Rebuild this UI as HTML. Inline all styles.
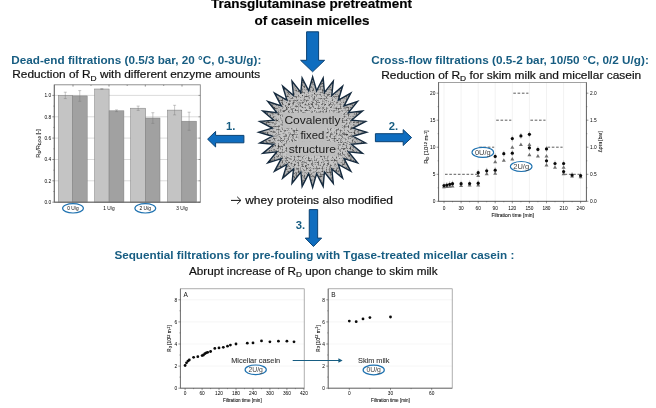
<!DOCTYPE html>
<html><head><meta charset="utf-8"><title>Transglutaminase pretreatment of casein micelles</title>
<style>
html,body{margin:0;padding:0;background:#fff;}
body{width:656px;height:408px;overflow:hidden;font-family:"Liberation Sans",sans-serif;}
svg{display:block;font-family:"Liberation Sans",sans-serif;}
.h{font-weight:bold;fill:#175d82;font-size:10.7px;}
.t{fill:#111;font-size:10.2px;stroke:#111;stroke-width:0.18px;}
.ax{fill:#000;font-size:4.8px;}
.axl{fill:#1a1a1a;font-size:5.7px;stroke:#1a1a1a;stroke-width:0.1px;}
</style></head><body>
<svg width="656" height="408" viewBox="0 0 656 408">
<defs>
<radialGradient id="sg" cx="50%" cy="50%" r="50%">
<stop offset="0" stop-color="#c9c9c9"/><stop offset="0.7" stop-color="#c4c4c4"/><stop offset="0.85" stop-color="#b4b4b4"/><stop offset="1" stop-color="#a6a6a6"/>
</radialGradient>
<filter id="noise" x="0" y="0" width="100%" height="100%">
<feTurbulence type="fractalNoise" baseFrequency="0.5" numOctaves="2" seed="3" result="n"/>
<feColorMatrix in="n" type="matrix" values="0 0 0 0 0  0 0 0 0 0  0 0 0 0 0  3.4 0 0 0 -1.7" result="a"/>
<feGaussianBlur in="a" stdDeviation="0.5" result="b"/><feComposite in="b" in2="SourceGraphic" operator="in"/>
</filter>
<filter id="noise2" x="0" y="0" width="100%" height="100%">
<feTurbulence type="fractalNoise" baseFrequency="0.55" numOctaves="2" seed="11" result="n"/>
<feColorMatrix in="n" type="matrix" values="0 0 0 0 0  0 0 0 0 0  0 0 0 0 0  0 3.4 0 0 -1.85" result="a"/>
<feGaussianBlur in="a" stdDeviation="0.5" result="b"/><feComposite in="b" in2="SourceGraphic" operator="in"/>
</filter>
</defs>
<rect width="656" height="408" fill="#fff"/>
<g opacity="0.999">

<text x="211" y="8.4" class="t" textLength="201" lengthAdjust="spacingAndGlyphs" style="font-weight:bold;font-size:12.2px;fill:#000">Transglutaminase pretreatment</text>
<text x="254.5" y="25.3" class="t" textLength="115" lengthAdjust="spacingAndGlyphs" style="font-weight:bold;font-size:12.2px;fill:#000">of casein micelles</text>
<text x="11.3" y="63.8" class="h" textLength="250" lengthAdjust="spacingAndGlyphs">Dead-end filtrations (0.5/3 bar, 20 °C, 0-3U/g):</text>
<text x="12.3" y="78.3" class="t" textLength="248" lengthAdjust="spacingAndGlyphs">Reduction of R<tspan font-size="7.2" dy="2.3">D</tspan><tspan dy="-2.3"> with different enzyme amounts</tspan></text>
<text x="371.3" y="64" class="h" textLength="277.5" lengthAdjust="spacingAndGlyphs">Cross-flow filtrations (0.5-2 bar, 10/50 °C, 0/2 U/g):</text>
<text x="381.2" y="78.6" class="t" textLength="260" lengthAdjust="spacingAndGlyphs">Reduction of R<tspan font-size="7.2" dy="2.3">D</tspan><tspan dy="-2.3"> for skim milk and micellar casein</tspan></text>
<text x="114.4" y="258.6" class="h" textLength="400" lengthAdjust="spacingAndGlyphs">Sequential filtrations for pre-fouling with Tgase-treated micellar casein :</text>
<text x="189" y="275" class="t" textLength="248.6" lengthAdjust="spacingAndGlyphs">Abrupt increase of R<tspan font-size="7.2" dy="2.3">D</tspan><tspan dy="-2.3"> upon change to skim milk</tspan></text>
<path d="M231 200.4H240.6M237.2 196.8L240.9 200.4L237.2 204" stroke="#111" stroke-width="1" fill="none"/>
<text x="245.2" y="204.1" class="t" textLength="147.8" lengthAdjust="spacingAndGlyphs">whey proteins also modified</text>
<path d="M306.6 31.8H318.6V60.3H324.6L312.6 71.8L300.6 60.3H306.6Z" fill="#0f6dbf" stroke="#0b4273" stroke-width="1" stroke-linejoin="miter"/>
<path d="M309.25 209.6H317.65V238.1H321.65L313.45 246.5L305.25 238.1H309.25Z" fill="#0f6dbf" stroke="#0b4273" stroke-width="1" stroke-linejoin="miter"/>
<path d="M243.9 135.4V142.8H215.6V147L207.6 139.15L215.6 131.4V135.4Z" fill="#0f6dbf" stroke="#0b4273" stroke-width="1"/>
<path d="M375.4 133.7V141.7H403.2V145.5L411.6 137.6L403.2 129.6V133.7Z" fill="#0f6dbf" stroke="#0b4273" stroke-width="1"/>
<text x="226.1" y="130.4" class="h" textLength="9.4" lengthAdjust="spacingAndGlyphs" style="font-size:10.6px">1.</text>
<text x="388.7" y="130.1" class="h" textLength="9.4" lengthAdjust="spacingAndGlyphs" style="font-size:10.6px">2.</text>
<text x="295.8" y="228.5" class="h" textLength="9.4" lengthAdjust="spacingAndGlyphs" style="font-size:10.6px">3.</text>
<polygon points="312.65,76.90 316.63,90.81 323.18,77.96 324.44,92.41 333.31,81.11 331.79,95.52 342.65,86.22 338.41,100.05 350.83,93.10 344.04,105.82 357.55,101.48 348.46,112.60 362.54,111.04 351.51,120.13 365.61,121.41 353.06,128.12 366.65,132.20 353.06,136.28 365.61,142.99 351.51,144.27 362.54,153.36 348.46,151.80 357.55,162.92 344.04,158.58 350.83,171.30 338.41,164.35 342.65,178.18 331.79,168.88 333.31,183.29 324.44,171.99 323.18,186.44 316.63,173.59 312.65,187.50 308.67,173.59 302.12,186.44 300.86,171.99 291.99,183.29 293.51,168.88 282.65,178.18 286.89,164.35 274.47,171.30 281.26,158.58 267.75,162.92 276.84,151.80 262.76,153.36 273.79,144.27 259.69,142.99 272.24,136.28 258.65,132.20 272.24,128.12 259.69,121.41 273.79,120.13 262.76,111.04 276.84,112.60 267.75,101.48 281.26,105.82 274.47,93.10 286.89,100.05 282.65,86.22 293.51,95.52 291.99,81.11 300.86,92.41 302.12,77.96 308.67,90.81" fill="url(#sg)"/>
<polygon points="312.65,76.90 316.63,90.81 323.18,77.96 324.44,92.41 333.31,81.11 331.79,95.52 342.65,86.22 338.41,100.05 350.83,93.10 344.04,105.82 357.55,101.48 348.46,112.60 362.54,111.04 351.51,120.13 365.61,121.41 353.06,128.12 366.65,132.20 353.06,136.28 365.61,142.99 351.51,144.27 362.54,153.36 348.46,151.80 357.55,162.92 344.04,158.58 350.83,171.30 338.41,164.35 342.65,178.18 331.79,168.88 333.31,183.29 324.44,171.99 323.18,186.44 316.63,173.59 312.65,187.50 308.67,173.59 302.12,186.44 300.86,171.99 291.99,183.29 293.51,168.88 282.65,178.18 286.89,164.35 274.47,171.30 281.26,158.58 267.75,162.92 276.84,151.80 262.76,153.36 273.79,144.27 259.69,142.99 272.24,136.28 258.65,132.20 272.24,128.12 259.69,121.41 273.79,120.13 262.76,111.04 276.84,112.60 267.75,101.48 281.26,105.82 274.47,93.10 286.89,100.05 282.65,86.22 293.51,95.52 291.99,81.11 300.86,92.41 302.12,77.96 308.67,90.81" fill="#707070" filter="url(#noise)" opacity="0.6"/>
<polygon points="312.65,76.90 316.63,90.81 323.18,77.96 324.44,92.41 333.31,81.11 331.79,95.52 342.65,86.22 338.41,100.05 350.83,93.10 344.04,105.82 357.55,101.48 348.46,112.60 362.54,111.04 351.51,120.13 365.61,121.41 353.06,128.12 366.65,132.20 353.06,136.28 365.61,142.99 351.51,144.27 362.54,153.36 348.46,151.80 357.55,162.92 344.04,158.58 350.83,171.30 338.41,164.35 342.65,178.18 331.79,168.88 333.31,183.29 324.44,171.99 323.18,186.44 316.63,173.59 312.65,187.50 308.67,173.59 302.12,186.44 300.86,171.99 291.99,183.29 293.51,168.88 282.65,178.18 286.89,164.35 274.47,171.30 281.26,158.58 267.75,162.92 276.84,151.80 262.76,153.36 273.79,144.27 259.69,142.99 272.24,136.28 258.65,132.20 272.24,128.12 259.69,121.41 273.79,120.13 262.76,111.04 276.84,112.60 267.75,101.48 281.26,105.82 274.47,93.10 286.89,100.05 282.65,86.22 293.51,95.52 291.99,81.11 300.86,92.41 302.12,77.96 308.67,90.81" fill="#fff" filter="url(#noise2)" opacity="0.6"/>
<polygon points="312.65,76.90 316.63,90.81 323.18,77.96 324.44,92.41 333.31,81.11 331.79,95.52 342.65,86.22 338.41,100.05 350.83,93.10 344.04,105.82 357.55,101.48 348.46,112.60 362.54,111.04 351.51,120.13 365.61,121.41 353.06,128.12 366.65,132.20 353.06,136.28 365.61,142.99 351.51,144.27 362.54,153.36 348.46,151.80 357.55,162.92 344.04,158.58 350.83,171.30 338.41,164.35 342.65,178.18 331.79,168.88 333.31,183.29 324.44,171.99 323.18,186.44 316.63,173.59 312.65,187.50 308.67,173.59 302.12,186.44 300.86,171.99 291.99,183.29 293.51,168.88 282.65,178.18 286.89,164.35 274.47,171.30 281.26,158.58 267.75,162.92 276.84,151.80 262.76,153.36 273.79,144.27 259.69,142.99 272.24,136.28 258.65,132.20 272.24,128.12 259.69,121.41 273.79,120.13 262.76,111.04 276.84,112.60 267.75,101.48 281.26,105.82 274.47,93.10 286.89,100.05 282.65,86.22 293.51,95.52 291.99,81.11 300.86,92.41 302.12,77.96 308.67,90.81" fill="none" stroke="#162b3f" stroke-width="1.4" stroke-linejoin="miter" stroke-miterlimit="6"/>
<rect x="282.8" y="112.7" width="59" height="15.3" fill="#bebebe"/>
<rect x="298.3" y="127.9" width="27.9" height="14" fill="#bebebe"/>
<rect x="287.1" y="141.8" width="50.6" height="14" fill="#bebebe"/>
<g style="fill:#1c1c1c;font-size:10.6px" text-anchor="middle">
<text x="312.4" y="123.9" textLength="56" lengthAdjust="spacingAndGlyphs">Covalently</text>
<text x="312.4" y="138.7" textLength="24" lengthAdjust="spacingAndGlyphs">fixed</text>
<text x="312.4" y="153.4" textLength="47.3" lengthAdjust="spacingAndGlyphs">structure</text></g>
<g>
<line x1="54.3" x2="200.3" y1="180.8" y2="180.8" stroke="#cdcdcd" stroke-width="0.7"/>
<line x1="54.3" x2="200.3" y1="159.5" y2="159.5" stroke="#cdcdcd" stroke-width="0.7"/>
<line x1="54.3" x2="200.3" y1="138.1" y2="138.1" stroke="#cdcdcd" stroke-width="0.7"/>
<line x1="54.3" x2="200.3" y1="116.8" y2="116.8" stroke="#cdcdcd" stroke-width="0.7"/>
<line x1="54.3" x2="200.3" y1="95.4" y2="95.4" stroke="#cdcdcd" stroke-width="0.7"/>
<rect x="58.3" y="95.4" width="14.0" height="106.8" fill="#c4c4c4" stroke="#7d7d7d" stroke-width="0.5"/>
<path d="M65.3 92.2V98.6M63.8 92.2h3M63.8 98.6h3" stroke="#777" stroke-width="0.4" fill="none"/>
<rect x="72.3" y="95.9" width="14.9" height="106.3" fill="#a1a1a1" stroke="#7d7d7d" stroke-width="0.5"/>
<path d="M79.75 90.6V101.3M78.25 90.6h3M78.25 101.3h3" stroke="#777" stroke-width="0.4" fill="none"/>
<rect x="94.6" y="89.0" width="14.5" height="113.2" fill="#c4c4c4" stroke="#7d7d7d" stroke-width="0.5"/>
<path d="M101.85 88.6V89.4M100.35 88.6h3M100.35 89.4h3" stroke="#777" stroke-width="0.4" fill="none"/>
<rect x="109.1" y="110.8" width="14.8" height="91.4" fill="#a1a1a1" stroke="#7d7d7d" stroke-width="0.5"/>
<path d="M116.5 109.9V111.6M115.0 109.9h3M115.0 111.6h3" stroke="#777" stroke-width="0.4" fill="none"/>
<rect x="130.6" y="108.2" width="15.1" height="94.0" fill="#c4c4c4" stroke="#7d7d7d" stroke-width="0.5"/>
<path d="M138.14999999999998 106.1V110.4M136.64999999999998 106.1h3M136.64999999999998 110.4h3" stroke="#777" stroke-width="0.4" fill="none"/>
<rect x="145.7" y="118.0" width="14.3" height="84.2" fill="#a1a1a1" stroke="#7d7d7d" stroke-width="0.5"/>
<path d="M152.85 112.7V123.4M151.35 112.7h3M151.35 123.4h3" stroke="#777" stroke-width="0.4" fill="none"/>
<rect x="167.4" y="110.1" width="14.4" height="92.1" fill="#c4c4c4" stroke="#7d7d7d" stroke-width="0.5"/>
<path d="M174.60000000000002 105.3V114.9M173.10000000000002 105.3h3M173.10000000000002 114.9h3" stroke="#777" stroke-width="0.4" fill="none"/>
<rect x="181.8" y="121.2" width="14.6" height="81.0" fill="#a1a1a1" stroke="#7d7d7d" stroke-width="0.5"/>
<path d="M189.10000000000002 112.2V130.3M187.60000000000002 112.2h3M187.60000000000002 130.3h3" stroke="#777" stroke-width="0.4" fill="none"/>
<rect x="54.3" y="84.8" width="146.0" height="117.4" fill="none" stroke="#858585" stroke-width="0.9"/>
<path d="M54.3 84.8V202.2H200.3" fill="none" stroke="#666" stroke-width="0.9"/>
<line x1="198.5" x2="200.3" y1="202.2" y2="202.2" stroke="#555" stroke-width="0.5"/>
<line x1="198.5" x2="200.3" y1="180.8" y2="180.8" stroke="#555" stroke-width="0.5"/>
<line x1="198.5" x2="200.3" y1="159.5" y2="159.5" stroke="#555" stroke-width="0.5"/>
<line x1="198.5" x2="200.3" y1="138.1" y2="138.1" stroke="#555" stroke-width="0.5"/>
<line x1="198.5" x2="200.3" y1="116.8" y2="116.8" stroke="#555" stroke-width="0.5"/>
<line x1="198.5" x2="200.3" y1="95.4" y2="95.4" stroke="#555" stroke-width="0.5"/>
<line x1="91" x2="91" y1="84.8" y2="86.0" stroke="#444" stroke-width="0.5"/>
<line x1="127.2" x2="127.2" y1="84.8" y2="86.0" stroke="#444" stroke-width="0.5"/>
<line x1="163.7" x2="163.7" y1="84.8" y2="86.0" stroke="#444" stroke-width="0.5"/>
<line x1="52.3" x2="54.3" y1="202.2" y2="202.2" stroke="#333" stroke-width="0.5"/>
<text x="51.099999999999994" y="203.9" class="ax" text-anchor="end">0.0</text>
<line x1="52.3" x2="54.3" y1="180.8" y2="180.8" stroke="#333" stroke-width="0.5"/>
<text x="51.099999999999994" y="182.5" class="ax" text-anchor="end">0.2</text>
<line x1="52.3" x2="54.3" y1="159.5" y2="159.5" stroke="#333" stroke-width="0.5"/>
<text x="51.099999999999994" y="161.2" class="ax" text-anchor="end">0.4</text>
<line x1="52.3" x2="54.3" y1="138.1" y2="138.1" stroke="#333" stroke-width="0.5"/>
<text x="51.099999999999994" y="139.8" class="ax" text-anchor="end">0.6</text>
<line x1="52.3" x2="54.3" y1="116.8" y2="116.8" stroke="#333" stroke-width="0.5"/>
<text x="51.099999999999994" y="118.5" class="ax" text-anchor="end">0.8</text>
<line x1="52.3" x2="54.3" y1="95.4" y2="95.4" stroke="#333" stroke-width="0.5"/>
<text x="51.099999999999994" y="97.1" class="ax" text-anchor="end">1.0</text>
<line x1="53.3" x2="54.3" y1="191.5" y2="191.5" stroke="#333" stroke-width="0.4"/>
<line x1="53.3" x2="54.3" y1="170.2" y2="170.2" stroke="#333" stroke-width="0.4"/>
<line x1="53.3" x2="54.3" y1="148.8" y2="148.8" stroke="#333" stroke-width="0.4"/>
<line x1="53.3" x2="54.3" y1="127.4" y2="127.4" stroke="#333" stroke-width="0.4"/>
<line x1="53.3" x2="54.3" y1="106.1" y2="106.1" stroke="#333" stroke-width="0.4"/>
<text x="73" y="210.1" class="ax" text-anchor="middle">0 U/g</text>
<line x1="73" x2="73" y1="84.8" y2="86.6" stroke="#333" stroke-width="0.5"/>
<text x="109" y="210.1" class="ax" text-anchor="middle">1 U/g</text>
<line x1="109" x2="109" y1="84.8" y2="86.6" stroke="#333" stroke-width="0.5"/>
<text x="145.3" y="210.1" class="ax" text-anchor="middle">2 U/g</text>
<line x1="145.3" x2="145.3" y1="84.8" y2="86.6" stroke="#333" stroke-width="0.5"/>
<text x="182" y="210.1" class="ax" text-anchor="middle">3 U/g</text>
<line x1="182" x2="182" y1="84.8" y2="86.6" stroke="#333" stroke-width="0.5"/>
<ellipse cx="73" cy="208.3" rx="10.4" ry="4.7" fill="none" stroke="#1f72b0" stroke-width="1.2"/>
<ellipse cx="145.3" cy="208.3" rx="10.4" ry="4.7" fill="none" stroke="#1f72b0" stroke-width="1.2"/>
<text transform="translate(40 143.6) rotate(-90)" class="axl" text-anchor="middle">R<tspan font-size="3.8" dy="1">D</tspan><tspan dy="-1">/R</tspan><tspan font-size="3.8" dy="1">D,0.0</tspan><tspan dy="-1"> [-]</tspan></text>
</g>
<g>
<line x1="444.0" x2="444.0" y1="82.5" y2="201.3" stroke="#e4e4e4" stroke-width="0.5"/>
<line x1="461.1" x2="461.1" y1="82.5" y2="201.3" stroke="#e4e4e4" stroke-width="0.5"/>
<line x1="478.2" x2="478.2" y1="82.5" y2="201.3" stroke="#e4e4e4" stroke-width="0.5"/>
<line x1="495.2" x2="495.2" y1="82.5" y2="201.3" stroke="#e4e4e4" stroke-width="0.5"/>
<line x1="512.3" x2="512.3" y1="82.5" y2="201.3" stroke="#e4e4e4" stroke-width="0.5"/>
<line x1="529.4" x2="529.4" y1="82.5" y2="201.3" stroke="#e4e4e4" stroke-width="0.5"/>
<line x1="546.5" x2="546.5" y1="82.5" y2="201.3" stroke="#e4e4e4" stroke-width="0.5"/>
<line x1="563.6" x2="563.6" y1="82.5" y2="201.3" stroke="#e4e4e4" stroke-width="0.5"/>
<line x1="580.6" x2="580.6" y1="82.5" y2="201.3" stroke="#e4e4e4" stroke-width="0.5"/>
<line x1="445.0" x2="477.2" y1="174.3" y2="174.3" stroke="#333" stroke-width="0.8" stroke-dasharray="2.6 1.7"/>
<line x1="479.2" x2="494.2" y1="147.2" y2="147.2" stroke="#333" stroke-width="0.8" stroke-dasharray="2.6 1.7"/>
<line x1="496.2" x2="511.3" y1="120.2" y2="120.2" stroke="#333" stroke-width="0.8" stroke-dasharray="2.6 1.7"/>
<line x1="513.3" x2="528.4" y1="93.2" y2="93.2" stroke="#333" stroke-width="0.8" stroke-dasharray="2.6 1.7"/>
<line x1="530.4" x2="545.5" y1="120.2" y2="120.2" stroke="#333" stroke-width="0.8" stroke-dasharray="2.6 1.7"/>
<line x1="547.5" x2="562.6" y1="147.2" y2="147.2" stroke="#333" stroke-width="0.8" stroke-dasharray="2.6 1.7"/>
<line x1="564.6" x2="579.6" y1="174.3" y2="174.3" stroke="#333" stroke-width="0.8" stroke-dasharray="2.6 1.7"/>
<path d="M444.0 184.7L446.0 188.2H442.0Z" fill="#707070"/>
<path d="M446.8 184.4L448.8 187.9H444.8Z" fill="#707070"/>
<path d="M449.7 184.2L451.7 187.7H447.7Z" fill="#707070"/>
<path d="M452.5 183.9L454.5 187.4H450.5Z" fill="#707070"/>
<path d="M461.1 183.6L463.1 187.1H459.1Z" fill="#707070"/>
<path d="M469.6 183.1L471.6 186.6H467.6Z" fill="#707070"/>
<path d="M478.2 183.1L480.2 186.6H476.2Z" fill="#707070"/>
<path d="M478.2 173.4L480.2 176.9H476.2Z" fill="#707070"/>
<path d="M486.7 171.7L488.7 175.2H484.7Z" fill="#707070"/>
<path d="M495.2 171.2L497.2 174.7H493.2Z" fill="#707070"/>
<path d="M495.2 159.8L497.2 163.3H493.2Z" fill="#707070"/>
<path d="M503.8 158.2L505.8 161.7H501.8Z" fill="#707070"/>
<path d="M512.3 157.1L514.3 160.6H510.3Z" fill="#707070"/>
<path d="M512.3 145.2L514.3 148.8H510.3Z" fill="#707070"/>
<path d="M520.9 142.5L522.9 146.0H518.9Z" fill="#707070"/>
<path d="M529.4 142.5L531.4 146.0H527.4Z" fill="#707070"/>
<path d="M529.4 152.8L531.4 156.3H527.4Z" fill="#707070"/>
<path d="M537.9 153.9L539.9 157.4H535.9Z" fill="#707070"/>
<path d="M546.5 153.9L548.5 157.4H544.5Z" fill="#707070"/>
<path d="M546.5 163.1L548.5 166.6H544.5Z" fill="#707070"/>
<path d="M555.0 165.2L557.0 168.7H553.0Z" fill="#707070"/>
<path d="M563.6 165.2L565.6 168.7H561.6Z" fill="#707070"/>
<path d="M563.6 171.7L565.6 175.2H561.6Z" fill="#707070"/>
<path d="M572.1 173.9L574.1 177.4H570.1Z" fill="#707070"/>
<path d="M580.6 174.7L582.6 178.2H578.6Z" fill="#707070"/>
<path d="M444.0 182.6V188.6" stroke="#666" stroke-width="0.4"/>
<circle cx="444.0" cy="185.6" r="1.6" fill="#0a0a0a"/>
<path d="M446.8 182.1V188.1" stroke="#666" stroke-width="0.4"/>
<circle cx="446.8" cy="185.1" r="1.6" fill="#0a0a0a"/>
<path d="M449.7 181.3V187.3" stroke="#666" stroke-width="0.4"/>
<circle cx="449.7" cy="184.3" r="1.6" fill="#0a0a0a"/>
<path d="M452.5 180.7V186.7" stroke="#666" stroke-width="0.4"/>
<circle cx="452.5" cy="183.7" r="1.6" fill="#0a0a0a"/>
<path d="M461.1 180.7V186.7" stroke="#666" stroke-width="0.4"/>
<circle cx="461.1" cy="183.7" r="1.6" fill="#0a0a0a"/>
<path d="M469.6 180.5V186.5" stroke="#666" stroke-width="0.4"/>
<circle cx="469.6" cy="183.5" r="1.6" fill="#0a0a0a"/>
<path d="M478.2 180.2V186.2" stroke="#666" stroke-width="0.4"/>
<circle cx="478.2" cy="183.2" r="1.6" fill="#0a0a0a"/>
<path d="M478.2 169.7V175.7" stroke="#666" stroke-width="0.4"/>
<circle cx="478.2" cy="172.7" r="1.6" fill="#0a0a0a"/>
<path d="M486.7 167.8V173.8" stroke="#666" stroke-width="0.4"/>
<circle cx="486.7" cy="170.8" r="1.6" fill="#0a0a0a"/>
<path d="M495.2 167.2V173.2" stroke="#666" stroke-width="0.4"/>
<circle cx="495.2" cy="170.2" r="1.6" fill="#0a0a0a"/>
<path d="M495.2 153.4V159.4" stroke="#666" stroke-width="0.4"/>
<circle cx="495.2" cy="156.4" r="1.6" fill="#0a0a0a"/>
<path d="M503.8 150.7V156.7" stroke="#666" stroke-width="0.4"/>
<circle cx="503.8" cy="153.7" r="1.6" fill="#0a0a0a"/>
<path d="M512.3 150.2V156.2" stroke="#666" stroke-width="0.4"/>
<circle cx="512.3" cy="153.2" r="1.6" fill="#0a0a0a"/>
<path d="M512.3 135.6V141.6" stroke="#666" stroke-width="0.4"/>
<circle cx="512.3" cy="138.6" r="1.6" fill="#0a0a0a"/>
<path d="M520.9 132.9V138.9" stroke="#666" stroke-width="0.4"/>
<circle cx="520.9" cy="135.9" r="1.6" fill="#0a0a0a"/>
<path d="M529.4 131.3V137.3" stroke="#666" stroke-width="0.4"/>
<circle cx="529.4" cy="134.3" r="1.6" fill="#0a0a0a"/>
<path d="M529.4 144.8V150.8" stroke="#666" stroke-width="0.4"/>
<circle cx="529.4" cy="147.8" r="1.6" fill="#0a0a0a"/>
<path d="M537.9 146.4V152.4" stroke="#666" stroke-width="0.4"/>
<circle cx="537.9" cy="149.4" r="1.6" fill="#0a0a0a"/>
<path d="M546.5 145.9V151.9" stroke="#666" stroke-width="0.4"/>
<circle cx="546.5" cy="148.9" r="1.6" fill="#0a0a0a"/>
<path d="M546.5 157.8V163.8" stroke="#666" stroke-width="0.4"/>
<circle cx="546.5" cy="160.8" r="1.6" fill="#0a0a0a"/>
<path d="M555.0 160.5V166.5" stroke="#666" stroke-width="0.4"/>
<circle cx="555.0" cy="163.5" r="1.6" fill="#0a0a0a"/>
<path d="M563.6 160.5V166.5" stroke="#666" stroke-width="0.4"/>
<circle cx="563.6" cy="163.5" r="1.6" fill="#0a0a0a"/>
<path d="M563.6 168.6V174.6" stroke="#666" stroke-width="0.4"/>
<circle cx="563.6" cy="171.6" r="1.6" fill="#0a0a0a"/>
<path d="M572.1 172.1V178.1" stroke="#666" stroke-width="0.4"/>
<circle cx="572.1" cy="175.1" r="1.6" fill="#0a0a0a"/>
<path d="M580.6 172.6V178.6" stroke="#666" stroke-width="0.4"/>
<circle cx="580.6" cy="175.6" r="1.6" fill="#0a0a0a"/>
<rect x="438.6" y="82.5" width="147.8" height="118.8" fill="none" stroke="#7a7a7a" stroke-width="0.7"/>
<path d="M438.6 82.5V201.3H586.4V82.5" fill="none" stroke="#5a5a5a" stroke-width="0.8"/>
<line x1="436.6" x2="438.6" y1="201.3" y2="201.3" stroke="#333" stroke-width="0.5"/>
<line x1="586.4" x2="588.4" y1="201.3" y2="201.3" stroke="#333" stroke-width="0.5"/>
<text x="435.4" y="203.0" class="ax" text-anchor="end">0</text>
<text x="590.0" y="203.0" class="ax">0.0</text>
<line x1="436.6" x2="438.6" y1="174.3" y2="174.3" stroke="#333" stroke-width="0.5"/>
<line x1="586.4" x2="588.4" y1="174.3" y2="174.3" stroke="#333" stroke-width="0.5"/>
<text x="435.4" y="176.0" class="ax" text-anchor="end">5</text>
<text x="590.0" y="176.0" class="ax">0.5</text>
<line x1="436.6" x2="438.6" y1="147.2" y2="147.2" stroke="#333" stroke-width="0.5"/>
<line x1="586.4" x2="588.4" y1="147.2" y2="147.2" stroke="#333" stroke-width="0.5"/>
<text x="435.4" y="148.9" class="ax" text-anchor="end">10</text>
<text x="590.0" y="148.9" class="ax">1.0</text>
<line x1="436.6" x2="438.6" y1="120.2" y2="120.2" stroke="#333" stroke-width="0.5"/>
<line x1="586.4" x2="588.4" y1="120.2" y2="120.2" stroke="#333" stroke-width="0.5"/>
<text x="435.4" y="121.9" class="ax" text-anchor="end">15</text>
<text x="590.0" y="121.9" class="ax">1.5</text>
<line x1="436.6" x2="438.6" y1="93.2" y2="93.2" stroke="#333" stroke-width="0.5"/>
<line x1="586.4" x2="588.4" y1="93.2" y2="93.2" stroke="#333" stroke-width="0.5"/>
<text x="435.4" y="94.9" class="ax" text-anchor="end">20</text>
<text x="590.0" y="94.9" class="ax">2.0</text>
<line x1="437.6" x2="438.6" y1="187.8" y2="187.8" stroke="#333" stroke-width="0.4"/>
<line x1="586.4" x2="587.4" y1="187.8" y2="187.8" stroke="#333" stroke-width="0.4"/>
<line x1="437.6" x2="438.6" y1="160.8" y2="160.8" stroke="#333" stroke-width="0.4"/>
<line x1="586.4" x2="587.4" y1="160.8" y2="160.8" stroke="#333" stroke-width="0.4"/>
<line x1="437.6" x2="438.6" y1="133.7" y2="133.7" stroke="#333" stroke-width="0.4"/>
<line x1="586.4" x2="587.4" y1="133.7" y2="133.7" stroke="#333" stroke-width="0.4"/>
<line x1="437.6" x2="438.6" y1="106.7" y2="106.7" stroke="#333" stroke-width="0.4"/>
<line x1="586.4" x2="587.4" y1="106.7" y2="106.7" stroke="#333" stroke-width="0.4"/>
<line x1="444.0" x2="444.0" y1="201.3" y2="203.3" stroke="#333" stroke-width="0.5"/>
<text x="444.0" y="209.8" class="ax" text-anchor="middle">0</text>
<line x1="461.1" x2="461.1" y1="201.3" y2="203.3" stroke="#333" stroke-width="0.5"/>
<text x="461.1" y="209.8" class="ax" text-anchor="middle">30</text>
<line x1="478.2" x2="478.2" y1="201.3" y2="203.3" stroke="#333" stroke-width="0.5"/>
<text x="478.2" y="209.8" class="ax" text-anchor="middle">60</text>
<line x1="495.2" x2="495.2" y1="201.3" y2="203.3" stroke="#333" stroke-width="0.5"/>
<text x="495.2" y="209.8" class="ax" text-anchor="middle">90</text>
<line x1="512.3" x2="512.3" y1="201.3" y2="203.3" stroke="#333" stroke-width="0.5"/>
<text x="512.3" y="209.8" class="ax" text-anchor="middle">120</text>
<line x1="529.4" x2="529.4" y1="201.3" y2="203.3" stroke="#333" stroke-width="0.5"/>
<text x="529.4" y="209.8" class="ax" text-anchor="middle">150</text>
<line x1="546.5" x2="546.5" y1="201.3" y2="203.3" stroke="#333" stroke-width="0.5"/>
<text x="546.5" y="209.8" class="ax" text-anchor="middle">180</text>
<line x1="563.6" x2="563.6" y1="201.3" y2="203.3" stroke="#333" stroke-width="0.5"/>
<text x="563.6" y="209.8" class="ax" text-anchor="middle">210</text>
<line x1="580.6" x2="580.6" y1="201.3" y2="203.3" stroke="#333" stroke-width="0.5"/>
<text x="580.6" y="209.8" class="ax" text-anchor="middle">240</text>
<line x1="452.5" x2="452.5" y1="201.3" y2="202.3" stroke="#333" stroke-width="0.4"/>
<line x1="469.6" x2="469.6" y1="201.3" y2="202.3" stroke="#333" stroke-width="0.4"/>
<line x1="486.7" x2="486.7" y1="201.3" y2="202.3" stroke="#333" stroke-width="0.4"/>
<line x1="503.8" x2="503.8" y1="201.3" y2="202.3" stroke="#333" stroke-width="0.4"/>
<line x1="520.9" x2="520.9" y1="201.3" y2="202.3" stroke="#333" stroke-width="0.4"/>
<line x1="537.9" x2="537.9" y1="201.3" y2="202.3" stroke="#333" stroke-width="0.4"/>
<line x1="555.0" x2="555.0" y1="201.3" y2="202.3" stroke="#333" stroke-width="0.4"/>
<line x1="572.1" x2="572.1" y1="201.3" y2="202.3" stroke="#333" stroke-width="0.4"/>
<text x="512.7" y="217.2" class="axl" text-anchor="middle" style="font-size:5.05px">Filtration time [min]</text>
<text transform="translate(428.2 147) rotate(-90)" class="axl" style="font-size:6.0px" text-anchor="middle">R<tspan font-size="4.0" dy="0.9">D</tspan><tspan dy="-0.9"> [10</tspan><tspan font-size="4.0" dy="-1.5">12</tspan><tspan dy="1.5"> m</tspan><tspan font-size="4.0" dy="-1.5">-1</tspan><tspan dy="1.5">]</tspan></text>
<text transform="translate(601.5 141.8) rotate(-90)" class="axl" style="font-size:4.7px;fill:#444" text-anchor="middle">Δp<tspan font-size="3.2" dy="0.9">TM</tspan><tspan dy="-0.9"> [bar]</tspan></text>
<ellipse cx="482.8" cy="152.4" rx="10.8" ry="5" fill="#fff" stroke="#1f72b0" stroke-width="1.1"/>
<text x="482.8" y="155.0" class="t" text-anchor="middle" style="font-size:7.5px;fill:#444;stroke:none">0U/g</text>
<ellipse cx="521.2" cy="166.5" rx="10.8" ry="5" fill="#fff" stroke="#1f72b0" stroke-width="1.1"/>
<text x="521.2" y="169.1" class="t" text-anchor="middle" style="font-size:7.5px;fill:#444;stroke:none">2U/g</text>
</g>
<g>
<line x1="180.4" x2="304.2" y1="366.1" y2="366.1" stroke="#ececec" stroke-width="0.5"/>
<line x1="180.4" x2="304.2" y1="344.0" y2="344.0" stroke="#ececec" stroke-width="0.5"/>
<line x1="180.4" x2="304.2" y1="321.9" y2="321.9" stroke="#ececec" stroke-width="0.5"/>
<line x1="180.4" x2="304.2" y1="299.8" y2="299.8" stroke="#ececec" stroke-width="0.5"/>
<rect x="180.4" y="288.8" width="123.8" height="99.4" fill="none" stroke="#8a8a8a" stroke-width="0.7"/>
<path d="M180.4 288.8V388.2H304.2" fill="none" stroke="#666" stroke-width="0.8"/>
<line x1="178.4" x2="180.4" y1="388.2" y2="388.2" stroke="#333" stroke-width="0.5"/>
<text x="177.2" y="389.9" class="ax" text-anchor="end">0</text>
<line x1="178.4" x2="180.4" y1="366.1" y2="366.1" stroke="#333" stroke-width="0.5"/>
<text x="177.2" y="367.8" class="ax" text-anchor="end">2</text>
<line x1="178.4" x2="180.4" y1="344.0" y2="344.0" stroke="#333" stroke-width="0.5"/>
<text x="177.2" y="345.7" class="ax" text-anchor="end">4</text>
<line x1="178.4" x2="180.4" y1="321.9" y2="321.9" stroke="#333" stroke-width="0.5"/>
<text x="177.2" y="323.6" class="ax" text-anchor="end">6</text>
<line x1="178.4" x2="180.4" y1="299.8" y2="299.8" stroke="#333" stroke-width="0.5"/>
<text x="177.2" y="301.5" class="ax" text-anchor="end">8</text>
<line x1="179.4" x2="180.4" y1="377.1" y2="377.1" stroke="#333" stroke-width="0.4"/>
<line x1="179.4" x2="180.4" y1="355.0" y2="355.0" stroke="#333" stroke-width="0.4"/>
<line x1="179.4" x2="180.4" y1="332.9" y2="332.9" stroke="#333" stroke-width="0.4"/>
<line x1="179.4" x2="180.4" y1="310.8" y2="310.8" stroke="#333" stroke-width="0.4"/>
<line x1="185.1" x2="185.1" y1="388.2" y2="390.2" stroke="#333" stroke-width="0.5"/>
<text x="185.1" y="394.8" class="ax" text-anchor="middle">0</text>
<line x1="202.1" x2="202.1" y1="388.2" y2="390.2" stroke="#333" stroke-width="0.5"/>
<text x="202.1" y="394.8" class="ax" text-anchor="middle">60</text>
<line x1="219.0" x2="219.0" y1="388.2" y2="390.2" stroke="#333" stroke-width="0.5"/>
<text x="219.0" y="394.8" class="ax" text-anchor="middle">120</text>
<line x1="236.0" x2="236.0" y1="388.2" y2="390.2" stroke="#333" stroke-width="0.5"/>
<text x="236.0" y="394.8" class="ax" text-anchor="middle">180</text>
<line x1="253.0" x2="253.0" y1="388.2" y2="390.2" stroke="#333" stroke-width="0.5"/>
<text x="253.0" y="394.8" class="ax" text-anchor="middle">240</text>
<line x1="269.9" x2="269.9" y1="388.2" y2="390.2" stroke="#333" stroke-width="0.5"/>
<text x="269.9" y="394.8" class="ax" text-anchor="middle">300</text>
<line x1="286.9" x2="286.9" y1="388.2" y2="390.2" stroke="#333" stroke-width="0.5"/>
<text x="286.9" y="394.8" class="ax" text-anchor="middle">360</text>
<line x1="303.9" x2="303.9" y1="388.2" y2="390.2" stroke="#333" stroke-width="0.5"/>
<text x="303.9" y="394.8" class="ax" text-anchor="middle">420</text>
<line x1="193.6" x2="193.6" y1="388.2" y2="389.2" stroke="#333" stroke-width="0.4"/>
<line x1="210.6" x2="210.6" y1="388.2" y2="389.2" stroke="#333" stroke-width="0.4"/>
<line x1="227.5" x2="227.5" y1="388.2" y2="389.2" stroke="#333" stroke-width="0.4"/>
<line x1="244.5" x2="244.5" y1="388.2" y2="389.2" stroke="#333" stroke-width="0.4"/>
<line x1="261.5" x2="261.5" y1="388.2" y2="389.2" stroke="#333" stroke-width="0.4"/>
<line x1="278.4" x2="278.4" y1="388.2" y2="389.2" stroke="#333" stroke-width="0.4"/>
<line x1="295.4" x2="295.4" y1="388.2" y2="389.2" stroke="#333" stroke-width="0.4"/>
<circle cx="185.1" cy="365.5" r="1.4" fill="#0a0a0a"/>
<circle cx="186.5" cy="362.8" r="1.4" fill="#0a0a0a"/>
<circle cx="187.9" cy="361.1" r="1.4" fill="#0a0a0a"/>
<circle cx="189.3" cy="360.0" r="1.4" fill="#0a0a0a"/>
<circle cx="193.6" cy="357.3" r="1.4" fill="#0a0a0a"/>
<circle cx="197.8" cy="356.7" r="1.4" fill="#0a0a0a"/>
<circle cx="202.1" cy="355.6" r="1.4" fill="#0a0a0a"/>
<circle cx="203.5" cy="355.0" r="1.4" fill="#0a0a0a"/>
<circle cx="204.9" cy="353.7" r="1.4" fill="#0a0a0a"/>
<circle cx="206.3" cy="352.8" r="1.4" fill="#0a0a0a"/>
<circle cx="207.7" cy="352.3" r="1.4" fill="#0a0a0a"/>
<circle cx="210.6" cy="351.5" r="1.4" fill="#0a0a0a"/>
<circle cx="214.8" cy="348.4" r="1.4" fill="#0a0a0a"/>
<circle cx="219.0" cy="347.9" r="1.4" fill="#0a0a0a"/>
<circle cx="223.3" cy="347.3" r="1.4" fill="#0a0a0a"/>
<circle cx="227.5" cy="346.2" r="1.4" fill="#0a0a0a"/>
<circle cx="230.4" cy="345.1" r="1.4" fill="#0a0a0a"/>
<circle cx="236.0" cy="344.0" r="1.4" fill="#0a0a0a"/>
<circle cx="247.3" cy="343.2" r="1.4" fill="#0a0a0a"/>
<circle cx="253.0" cy="342.9" r="1.4" fill="#0a0a0a"/>
<circle cx="261.5" cy="340.9" r="1.4" fill="#0a0a0a"/>
<circle cx="269.9" cy="341.8" r="1.4" fill="#0a0a0a"/>
<circle cx="278.4" cy="341.2" r="1.4" fill="#0a0a0a"/>
<circle cx="286.9" cy="341.2" r="1.4" fill="#0a0a0a"/>
<circle cx="294.0" cy="341.8" r="1.4" fill="#0a0a0a"/>
<text x="183.4" y="297.2" class="t" style="font-size:6.5px;fill:#111;stroke:none">A</text>
<text x="242.3" y="402.4" class="axl" text-anchor="middle" style="font-size:4.6px">Filtration time [min]</text>
<text transform="translate(171 338.5) rotate(-90)" class="axl" style="font-size:4.7px" text-anchor="middle">R<tspan font-size="3.2" dy="0.9">D</tspan><tspan dy="-0.9"> [10</tspan><tspan font-size="3.2" dy="-1.5">12</tspan><tspan dy="1.5"> m</tspan><tspan font-size="3.2" dy="-1.5">-1</tspan><tspan dy="1.5">]</tspan></text>
</g>
<g>
<line x1="328.2" x2="452.2" y1="366.1" y2="366.1" stroke="#ececec" stroke-width="0.5"/>
<line x1="328.2" x2="452.2" y1="344.0" y2="344.0" stroke="#ececec" stroke-width="0.5"/>
<line x1="328.2" x2="452.2" y1="321.9" y2="321.9" stroke="#ececec" stroke-width="0.5"/>
<line x1="328.2" x2="452.2" y1="299.8" y2="299.8" stroke="#ececec" stroke-width="0.5"/>
<rect x="328.2" y="288.8" width="124.0" height="99.4" fill="none" stroke="#8a8a8a" stroke-width="0.7"/>
<path d="M328.2 288.8V388.2H452.2" fill="none" stroke="#666" stroke-width="0.8"/>
<line x1="326.2" x2="328.2" y1="388.2" y2="388.2" stroke="#333" stroke-width="0.5"/>
<text x="325.0" y="389.9" class="ax" text-anchor="end">0</text>
<line x1="326.2" x2="328.2" y1="366.1" y2="366.1" stroke="#333" stroke-width="0.5"/>
<text x="325.0" y="367.8" class="ax" text-anchor="end">2</text>
<line x1="326.2" x2="328.2" y1="344.0" y2="344.0" stroke="#333" stroke-width="0.5"/>
<text x="325.0" y="345.7" class="ax" text-anchor="end">4</text>
<line x1="326.2" x2="328.2" y1="321.9" y2="321.9" stroke="#333" stroke-width="0.5"/>
<text x="325.0" y="323.6" class="ax" text-anchor="end">6</text>
<line x1="326.2" x2="328.2" y1="299.8" y2="299.8" stroke="#333" stroke-width="0.5"/>
<text x="325.0" y="301.5" class="ax" text-anchor="end">8</text>
<line x1="327.2" x2="328.2" y1="377.1" y2="377.1" stroke="#333" stroke-width="0.4"/>
<line x1="327.2" x2="328.2" y1="355.0" y2="355.0" stroke="#333" stroke-width="0.4"/>
<line x1="327.2" x2="328.2" y1="332.9" y2="332.9" stroke="#333" stroke-width="0.4"/>
<line x1="327.2" x2="328.2" y1="310.8" y2="310.8" stroke="#333" stroke-width="0.4"/>
<line x1="349.3" x2="349.3" y1="388.2" y2="390.2" stroke="#333" stroke-width="0.5"/>
<text x="349.3" y="394.8" class="ax" text-anchor="middle">0</text>
<line x1="390.5" x2="390.5" y1="388.2" y2="390.2" stroke="#333" stroke-width="0.5"/>
<text x="390.5" y="394.8" class="ax" text-anchor="middle">30</text>
<line x1="431.7" x2="431.7" y1="388.2" y2="390.2" stroke="#333" stroke-width="0.5"/>
<text x="431.7" y="394.8" class="ax" text-anchor="middle">60</text>
<line x1="328.7" x2="328.7" y1="388.2" y2="389.2" stroke="#333" stroke-width="0.4"/>
<line x1="369.9" x2="369.9" y1="388.2" y2="389.2" stroke="#333" stroke-width="0.4"/>
<line x1="411.1" x2="411.1" y1="388.2" y2="389.2" stroke="#333" stroke-width="0.4"/>
<circle cx="349.3" cy="321.1" r="1.4" fill="#0a0a0a"/>
<circle cx="356.2" cy="321.7" r="1.4" fill="#0a0a0a"/>
<circle cx="363.0" cy="318.9" r="1.4" fill="#0a0a0a"/>
<circle cx="369.9" cy="317.6" r="1.4" fill="#0a0a0a"/>
<circle cx="390.5" cy="317.0" r="1.4" fill="#0a0a0a"/>
<text x="331.2" y="297.2" class="t" style="font-size:6.5px;fill:#111;stroke:none">B</text>
<text x="390.5" y="402.4" class="axl" text-anchor="middle" style="font-size:4.6px">Filtration time [min]</text>
<text transform="translate(319.5 338.5) rotate(-90)" class="axl" style="font-size:4.7px" text-anchor="middle">R<tspan font-size="3.2" dy="0.9">D</tspan><tspan dy="-0.9"> [10</tspan><tspan font-size="3.2" dy="-1.5">12</tspan><tspan dy="1.5"> m</tspan><tspan font-size="3.2" dy="-1.5">-1</tspan><tspan dy="1.5">]</tspan></text>
</g>
<text x="255.7" y="362.5" class="t" text-anchor="middle" textLength="49" lengthAdjust="spacingAndGlyphs" style="font-size:7.2px;fill:#333;stroke:#333;stroke-width:0.1px">Micellar casein</text>
<text x="373.7" y="362.5" class="t" text-anchor="middle" textLength="31.4" lengthAdjust="spacingAndGlyphs" style="font-size:7.2px;fill:#333;stroke:#333;stroke-width:0.1px">Skim milk</text>
<ellipse cx="255.7" cy="369.8" rx="10.6" ry="4.8" fill="none" stroke="#1f72b0" stroke-width="1.2"/>
<text x="255.7" y="372.2" class="t" text-anchor="middle" style="font-size:6.8px;fill:#444;stroke:none">2U/g</text>
<ellipse cx="373.7" cy="370" rx="10.6" ry="4.8" fill="none" stroke="#1f72b0" stroke-width="1.2"/>
<text x="373.7" y="372.4" class="t" text-anchor="middle" style="font-size:6.8px;fill:#444;stroke:none">0U/g</text>
<path d="M292.7 360.5H339.5" stroke="#175d82" stroke-width="1" fill="none"/>
<path d="M342.6 360.5L338.4 358.2V362.8Z" fill="#175d82"/>
</g></svg>
</body></html>
